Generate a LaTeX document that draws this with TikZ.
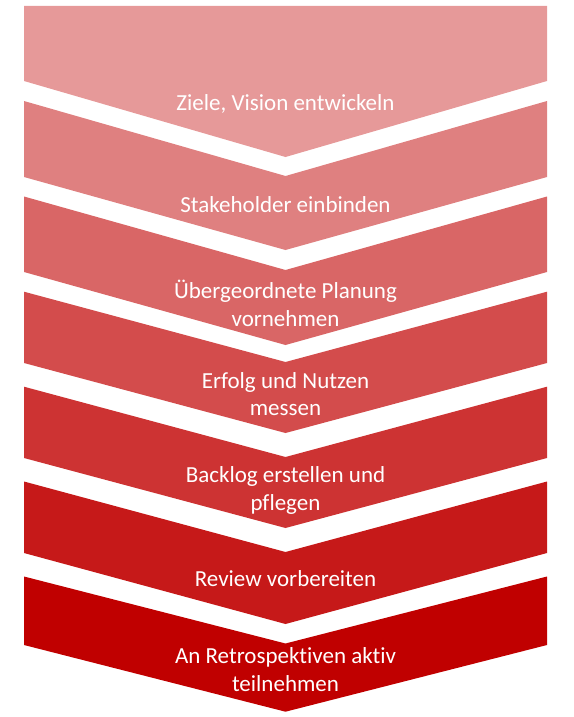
\documentclass[tikz,border=0pt]{standalone}
\usepackage{fontspec}
\setmainfont{Carlito}[Ligatures={NoCommon}]
\definecolor{chevred}{HTML}{C00000}
\begin{document}
\begin{tikzpicture}[x=1pt,y=-1pt,
  chev/.style={fill=chevred!#1!white, draw=none},
  lbl/.style={text=white, anchor=base, inner sep=0pt, font=\fontsize{23}{28}\selectfont}]
\useasboundingbox (0,0) rectangle (573,717);
\def\xl{24}\def\xr{547}\def\xm{285.5}
% shape 1 (flat top)
\fill[chev=40] (\xl,6) -- (\xr,6) -- (\xr,81) -- (\xm,157) -- (\xl,81) -- cycle;
% shapes 2..7: top, notch, bottom, tip, colour
\foreach \t/\n/\b/\p/\c in {101/176/177/250/50, 196.5/270/272/345/60, 291.7/362/363/433/70,
    386.7/457/458/528/80, 481.5/552/553/624/90, 576.5/643.5/645/711.7/100}{
  \fill[chev=\c] (\xl,\t) -- (\xm,\n) -- (\xr,\t) -- (\xr,\b) -- (\xm,\p) -- (\xl,\b) -- cycle;
}
\node[lbl] (t1) at (\xm,110) {Ziele, Vision entwickeln};
\node[lbl] (t2) at (\xm,212) {Stakeholder einbinden};
\node[lbl] (t3a) at (\xm,298.5) {Übergeordnete Planung};
\node[lbl] (t3b) at (\xm,326.5) {vornehmen};
\node[lbl] (t4a) at (\xm,388) {Erfolg und Nutzen};
\node[lbl] (t4b) at (\xm,415.5) {messen};
\node[lbl] (t5a) at (\xm,482) {Backlog erstellen und};
\node[lbl] (t5b) at (\xm,510) {pflegen};
\node[lbl] (t6) at (\xm,586.5) {Review vorbereiten};
\node[lbl] (t7a) at (\xm,663.5) {An Retrospektiven aktiv};
\node[lbl] (t7b) at (\xm,691.5) {teilnehmen};
\end{tikzpicture}
\end{document}
